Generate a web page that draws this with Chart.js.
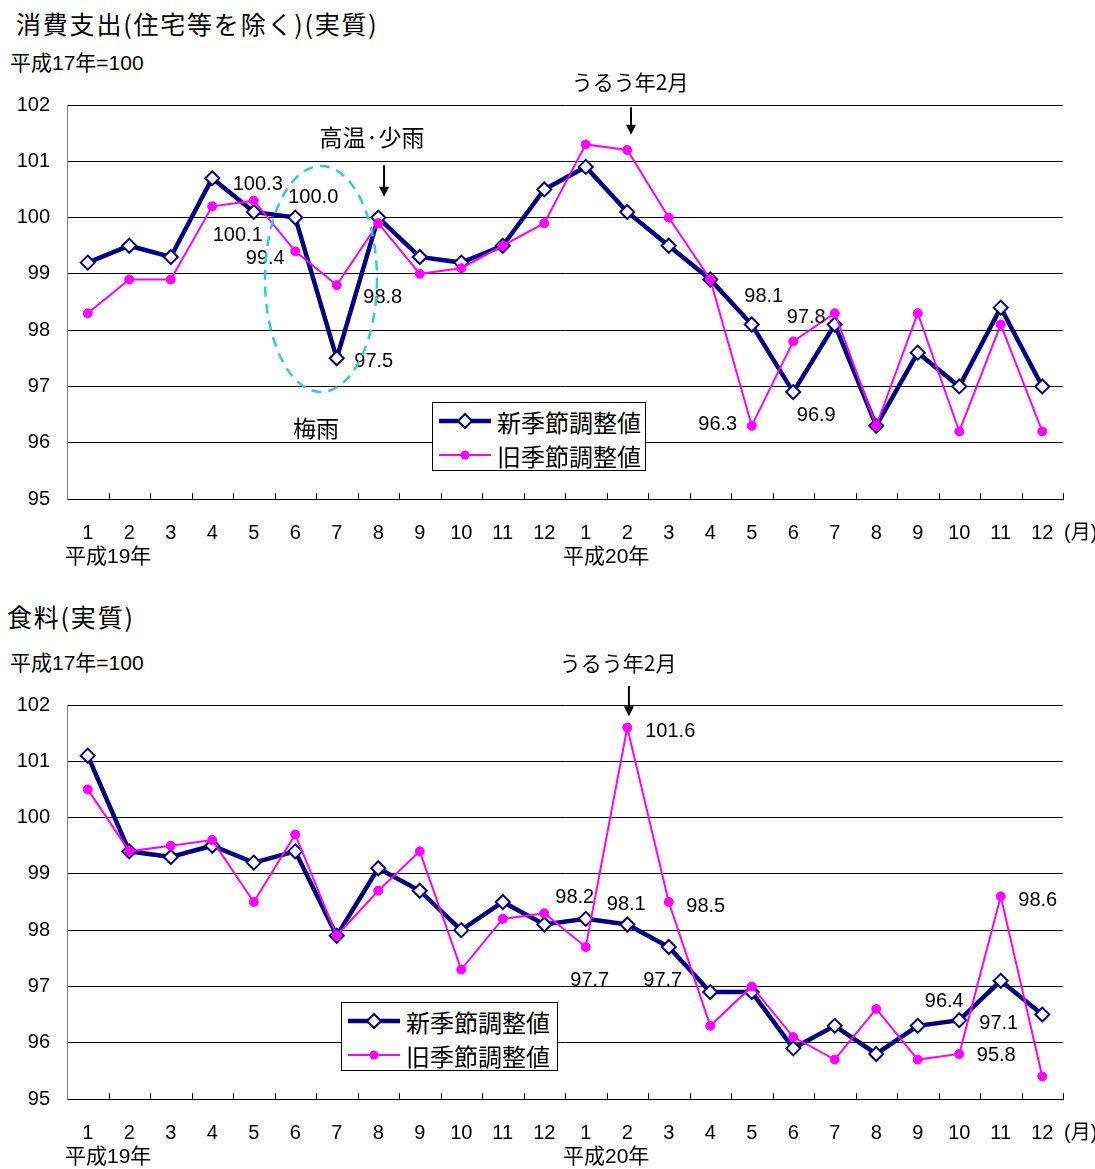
<!DOCTYPE html>
<html><head><meta charset="utf-8">
<script src="https://cdn.jsdelivr.net/npm/chart.js@4.4.0/dist/chart.umd.min.js"></script>
<style>
html,body{margin:0;padding:0;background:#fff;}
body{width:1095px;height:1169px;position:relative;overflow:hidden;font-family:"Liberation Sans","Noto Sans CJK JP",sans-serif;color:#000;}
.t{position:absolute;white-space:nowrap;line-height:1;}
.ttl{font-size:25px;letter-spacing:1.8px;font-family:"Noto Sans CJK JP",sans-serif;}
.sub{font-size:21px;font-family:"Liberation Sans","Noto Sans CJK JP",sans-serif;}
canvas{position:absolute;left:0;}
.legend{position:absolute;border:1px solid #000;background:#fff;box-sizing:border-box;}
.legend .row{position:absolute;left:6px;height:30px;display:flex;align-items:center;font-family:"Noto Sans CJK JP",sans-serif;font-size:24px;}
.legend svg{margin-right:6px;}
</style></head>
<body>
<div class="t ttl" style="left:16px;top:11px;">消費支出(住宅等を除く)(実質)</div>
<div class="t sub" style="left:10px;top:52px;">平成17年=100</div>
<div class="t ttl" style="left:7px;top:604px;">食料(実質)</div>
<div class="t sub" style="left:10px;top:652px;">平成17年=100</div>
<canvas id="c1" width="1095" height="580" style="top:0;"></canvas>
<canvas id="c2" width="1095" height="569" style="top:600px;"></canvas>
<div class="legend" id="lg1" style="left:432px;top:402px;width:214px;height:69px;"></div>
<div class="legend" id="lg2" style="left:341px;top:1002px;width:217px;height:69px;"></div>
<script>
// ---- data ----
const months = ["1","2","3","4","5","6","7","8","9","10","11","12","1","2","3","4","5","6","7","8","9","10","11","12"];
const yearLabels = ["平成19年","平成20年"];
const seriesNames = ["新季節調整値","旧季節調整値"];
const yTicks = [95,96,97,98,99,100,101,102];
// 消費支出(住宅等を除く)(実質)
const spendNew = [99.2,99.5,99.3,100.7,100.1,100.0,97.5,100.0,99.3,99.2,99.5,100.5,100.9,100.1,99.5,98.9,98.1,96.9,98.1,96.3,97.6,97.0,98.4,97.0];
const spendOld = [98.3,98.9,98.9,100.2,100.3,99.4,98.8,99.9,99.0,99.1,99.5,99.9,101.3,101.2,100.0,98.9,96.3,97.8,98.3,96.3,98.3,96.2,98.1,96.2];
// 食料(実質)
const foodNew = [101.1,99.4,99.3,99.5,99.2,99.4,97.9,99.1,98.7,98.0,98.5,98.1,98.2,98.1,97.7,96.9,96.9,95.9,96.3,95.8,96.3,96.4,97.1,96.5];
const foodOld = [100.5,99.4,99.5,99.6,98.5,99.7,97.9,98.7,99.4,97.3,98.2,98.3,97.7,101.6,98.5,96.3,97.0,96.1,95.7,96.6,95.7,95.8,98.6,95.4];

const NAVY = '#000080', MAG = '#FF00FF';
const NUMFONT = '20px "Liberation Sans", Arial, sans-serif';

// value labels: [seriesKey, index, dx, dy]
const spendLabels = [['old',4,4,-16],['new',5,18,-20],['new',4,-16,24],['old',5,-30,7],['old',6,46,12],['new',6,37,3],['new',16,12,-28],['old',17,13,-24],['old',16,-34,-1],['new',17,23,23]];
const foodLabels = [['old',13,43,4],['new',12,-11,-21],['new',13,-1,-20],['old',14,37,4],['old',12,4,33],['new',14,-6,33],['new',21,-15,-19],['new',22,-2,43],['old',21,37,2],['old',22,37,4]];

const annoPlugin = {
  id: 'anno',
  afterDraw(chart, args, opts) {
    const ctx = chart.ctx, xs = chart.scales.x, ys = chart.scales.y, ca = chart.chartArea;
    const n = months.length, cw = (ca.right - ca.left) / n;
    ctx.save();
    // inward x ticks
    ctx.strokeStyle = '#000'; ctx.lineWidth = 1;
    for (let i = 1; i <= n; i++) {
      const x = Math.round(ca.left + i * cw) + 0.5;
      ctx.beginPath(); ctx.moveTo(x, ca.bottom); ctx.lineTo(x, ca.bottom - 6); ctx.stroke();
    }
    // year labels & unit
    ctx.fillStyle = '#000'; ctx.textBaseline = 'middle';
    ctx.font = '21px "Liberation Sans", "Noto Sans CJK JP", sans-serif'; ctx.textAlign = 'left';
    ctx.fillText(yearLabels[0], ca.left - 2, ca.bottom + 58);
    ctx.fillText(yearLabels[1], ca.left + 12 * cw - 2, ca.bottom + 58);
    ctx.font = '20px "Liberation Sans", "Noto Sans CJK JP", sans-serif';
    ctx.fillText('(月)', ca.right + 1, ca.bottom + 34);
    // value labels
    ctx.font = NUMFONT; ctx.textAlign = 'center';
    const src = {new: opts.dNew, old: opts.dOld};
    opts.labels.forEach(([k, i, dx, dy]) => {
      const v = src[k][i];
      ctx.fillText(v.toFixed(1), xs.getPixelForValue(i) + dx, ys.getPixelForValue(v) + dy);
    });
    // free texts
    (opts.texts || []).forEach(t => {
      ctx.font = t.size + 'px "Noto Sans CJK JP", sans-serif';
      ctx.fillText(t.text, xs.getPixelForValue(t.xi), ys.getPixelForValue(t.v));
    });
    // arrows
    (opts.arrows || []).forEach(a => {
      const x = xs.getPixelForValue(a.xi), y1 = ys.getPixelForValue(a.v1), y2 = ys.getPixelForValue(a.v2);
      ctx.strokeStyle = '#000'; ctx.lineWidth = 2;
      ctx.beginPath(); ctx.moveTo(x, y1); ctx.lineTo(x, y2 - 8); ctx.stroke();
      ctx.beginPath(); ctx.moveTo(x - 5, y2 - 10); ctx.lineTo(x + 5, y2 - 10); ctx.lineTo(x, y2); ctx.closePath(); ctx.fill();
    });
    // ellipse
    if (opts.ellipse) {
      const e = opts.ellipse;
      ctx.strokeStyle = '#33CCCC'; ctx.lineWidth = 2.5; ctx.setLineDash([10, 7]);
      ctx.beginPath();
      ctx.ellipse(xs.getPixelForValue(e.xi), ys.getPixelForValue(e.v), e.rx, e.ry, 0, 0, Math.PI * 2);
      ctx.stroke(); ctx.setLineDash([]);
    }
    ctx.restore();
  }
};

function makeChart(id, dNew, dOld, labels, texts, arrows, ellipse, padBottom) {
  return new Chart(document.getElementById(id), {
    type: 'line',
    data: {
      labels: months,
      datasets: [
        {label: seriesNames[0], data: dNew, borderColor: NAVY, borderWidth: 4.5, tension: 0,
         pointStyle: 'rectRot', pointRadius: 7, pointBackgroundColor: '#fff', pointBorderColor: NAVY, pointBorderWidth: 2, order: 1},
        {label: seriesNames[1], data: dOld, borderColor: MAG, borderWidth: 2, tension: 0,
         pointStyle: 'circle', pointRadius: 4.5, pointBackgroundColor: MAG, pointBorderColor: MAG, pointBorderWidth: 1, order: 0}
      ]
    },
    options: {
      responsive: false, animation: false, events: [],
      layout: {padding: {top: 105, right: 32, left: 0, bottom: padBottom}},
      plugins: {legend: {display: false}, tooltip: {enabled: false},
        anno: {dNew, dOld, labels, texts, arrows, ellipse}},
      scales: {
        x: {offset: true,
            grid: {display: true, drawOnChartArea: false, drawTicks: false},
            border: {display: true, color: '#000', width: 1},
            ticks: {color: '#000', font: {family: '"Liberation Sans", Arial', size: 20}, padding: 22, maxRotation: 0, autoSkip: false},
            afterFit(s) { s.height = 60; }},
        y: {min: 95, max: 102,
            afterBuildTicks(s) { s.ticks = yTicks.map(v => ({value: v})); },
            grid: {color: '#000', lineWidth: 1, drawTicks: false},
            border: {display: true, color: '#808080', width: 1},
            ticks: {color: '#000', font: {family: '"Liberation Sans", Arial', size: 20}, padding: 17},
            afterFit(s) { s.width = 67; }}
      }
    },
    plugins: [annoPlugin]
  });
}

makeChart('c1', spendNew, spendOld, spendLabels,
  [{text: '高温·少雨', xi: 6.85, v: 101.43, size: 23}, {text: '梅雨', xi: 5.5, v: 96.26, size: 23}, {text: 'うるう年2月', xi: 13.07, v: 102.41, size: 21}],
  [{xi: 7.14, v1: 100.93, v2: 100.37}, {xi: 13.09, v1: 101.96, v2: 101.47}],
  {xi: 5.62, v: 98.91, rx: 56, ry: 113}, 21);
makeChart('c2', foodNew, foodOld, foodLabels,
  [{text: 'うるう年2月', xi: 12.78, v: 102.75, size: 21}],
  [{xi: 13.04, v1: 102.34, v2: 101.80}],
  null, 10);

function legendHTML() {
  const diamond = `<svg width="52" height="20"><line x1="0" y1="10" x2="52" y2="10" stroke="${NAVY}" stroke-width="4.5"/><polygon points="26,3 33,10 26,17 19,10" fill="#fff" stroke="${NAVY}" stroke-width="2"/></svg>`;
  const dot = `<svg width="52" height="20"><line x1="0" y1="10" x2="52" y2="10" stroke="${MAG}" stroke-width="2"/><circle cx="26" cy="10" r="4.5" fill="${MAG}"/></svg>`;
  return `<div class="row" style="top:3px;">${diamond}<span>${seriesNames[0]}</span></div>` +
         `<div class="row" style="top:37px;">${dot}<span>${seriesNames[1]}</span></div>`;
}
document.getElementById('lg1').innerHTML = legendHTML();
document.getElementById('lg2').innerHTML = legendHTML();
</script>
</body></html>
